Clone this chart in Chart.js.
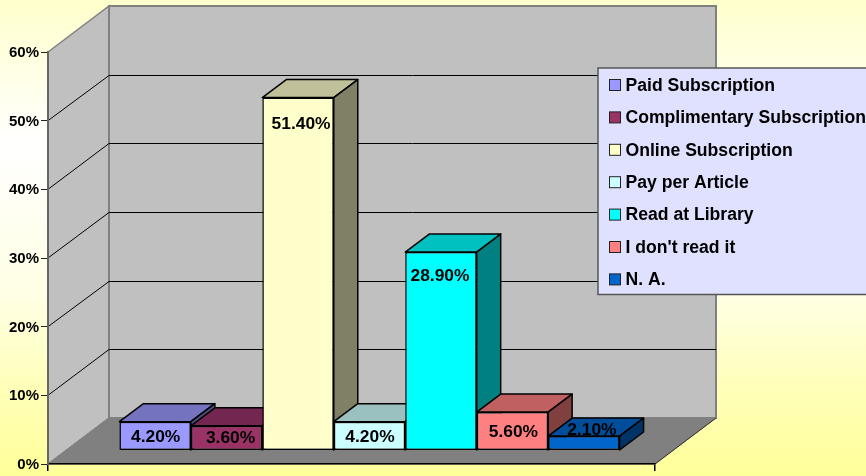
<!DOCTYPE html>
<html>
<head>
<meta charset="utf-8">
<style>
html, body { margin: 0; padding: 0; overflow: hidden; }
canvas { display: block; }
</style>
<script src="https://cdn.jsdelivr.net/npm/chart.js@4"></script>
</head>
<body>
<canvas id="chart" width="866" height="476"></canvas>
<script>
var categories = [''];
var seriesNames = ['Paid Subscription', 'Complimentary Subscription', 'Online Subscription', 'Pay per Article', 'Read at Library', "I don't read it", 'N. A.'];
var seriesValues = [4.2, 3.6, 51.4, 4.2, 28.9, 5.6, 2.1];
var seriesColors = ['#9999ff', '#993366', '#ffffcc', '#ccffff', '#00ffff', '#ff8080', '#0066cc'];
var topColors = ['#7373c0', '#732650', '#c0c09a', '#9ac0c0', '#00c0c0', '#c06060', '#004d9a'];
var sideColors = ['#4d4d80', '#4d1a33', '#808066', '#668080', '#008080', '#804040', '#003366'];

// where each value label sits against its bar top
var labelDrop = [15.5, 12, 26.5, 15.5, 24, 20.5, -6];
var labelNudge = [0.5, 4, 3, 0.5, -1, 1, 8];

var FONT = '"Liberation Sans", Arial, sans-serif';
var wallDx = 61, wallDy = -46;      // front plane to back wall
var barDx = 18, barDy = -13.5;      // front plane to bar fronts
var depthDx = 24, depthDy = -18;    // bar depth

function poly(ctx, pts, fill, stroke, width) {
    ctx.beginPath();
    ctx.moveTo(pts[0][0], pts[0][1]);
    for (var i = 1; i < pts.length; i++) {
        ctx.lineTo(pts[i][0], pts[i][1]);
    }
    ctx.closePath();
    if (fill) {
        ctx.fillStyle = fill;
        ctx.fill();
    }
    if (stroke) {
        ctx.strokeStyle = stroke;
        ctx.lineWidth = width;
        ctx.stroke();
    }
}

var wallsPlugin = {
    id: 'walls',
    beforeDraw: function(chart) {
        var ctx = chart.ctx, a = chart.chartArea, y = chart.scales.y;
        var bg = ctx.createLinearGradient(0, 0, 0, chart.height);
        bg.addColorStop(0, '#ffffcc');
        bg.addColorStop(0.3, '#ffffff');
        bg.addColorStop(0.62, '#ffffe4');
        bg.addColorStop(0.82, '#ffffb8');
        bg.addColorStop(1, '#ffff99');
        ctx.save();
        ctx.fillStyle = bg;
        ctx.fillRect(0, 0, chart.width, chart.height);

        var x0 = a.left, x1 = a.right, top = a.top, bot = a.bottom;
        poly(ctx, [[x0, top], [x0 + wallDx, top + wallDy], [x0 + wallDx, bot + wallDy], [x0, bot]], '#c0c0c0', '#808080', 1.5);
        poly(ctx, [[x0 + wallDx, top + wallDy], [x1 + wallDx, top + wallDy], [x1 + wallDx, bot + wallDy], [x0 + wallDx, bot + wallDy]], '#c0c0c0', '#808080', 2);
        poly(ctx, [[x0, bot], [x0 + wallDx, bot + wallDy], [x1 + wallDx, bot + wallDy], [x1, bot]], '#808080', '#808080', 1);

        ctx.strokeStyle = '#000';
        ctx.lineWidth = 1;
        y.ticks.forEach(function(t) {
            if (t.value === 0 || t.value === y.max) {
                return;
            }
            var py = y.getPixelForValue(t.value);
            var backY = Math.round(py + wallDy) + 0.5;
            ctx.beginPath();
            ctx.moveTo(x0, py);
            ctx.lineTo(x0 + wallDx, backY);
            ctx.lineTo(x1 + wallDx, backY);
            ctx.stroke();
        });
        ctx.beginPath();
        ctx.moveTo(x1, bot);
        ctx.lineTo(x1 + wallDx, bot + wallDy);
        ctx.strokeStyle = '#333';
        ctx.stroke();
        ctx.restore();
    },
    beforeDatasetsDraw: function(chart) {
        var ctx = chart.ctx;
        ctx.save();
        ctx.translate(barDx, barDy);
        // tops and sides go left to right, the library paints the fronts over them
        ctx.lineJoin = 'round';
        for (var i = 0; i < seriesValues.length; i++) {
            var b = chart.getDatasetMeta(i).data[0];
            var l = b.x - b.width / 2, r = b.x + b.width / 2, t = b.y, base = b.base;
            poly(ctx, [[l, t], [r, t], [r + depthDx, t + depthDy], [l + depthDx, t + depthDy]], topColors[i], '#000', 1.5);
            poly(ctx, [[r, t], [r + depthDx, t + depthDy], [r + depthDx, base + depthDy], [r, base]], sideColors[i], '#000', 1.5);
        }
    },
    afterDatasetsDraw: function(chart) {
        var ctx = chart.ctx;
        ctx.textAlign = 'center';
        ctx.textBaseline = 'middle';
        ctx.fillStyle = '#000';
        ctx.font = 'bold 17.4px ' + FONT;
        for (var i = 0; i < seriesValues.length; i++) {
            var b = chart.getDatasetMeta(i).data[0];
            ctx.fillText(seriesValues[i].toFixed(2) + '%', b.x + labelNudge[i], b.y + labelDrop[i]);
        }
        ctx.restore();
    },
    afterDraw: function(chart) {
        var ctx = chart.ctx;
        ctx.save();
        ctx.fillStyle = '#e0e0ff';
        ctx.strokeStyle = '#555';
        ctx.lineWidth = 1.5;
        ctx.fillRect(598, 68, 280, 226.5);
        ctx.strokeRect(598, 68, 280, 226.5);
        ctx.font = 'bold 17.6px ' + FONT;
        ctx.textBaseline = 'middle';
        ctx.textAlign = 'left';
        ctx.lineWidth = 1;
        for (var i = 0; i < seriesNames.length; i++) {
            var cy = 85 + i * 32.4;
            ctx.fillStyle = seriesColors[i];
            ctx.strokeStyle = '#222';
            ctx.fillRect(609.5, cy - 5.5, 11, 11);
            ctx.strokeRect(609.5, cy - 5.5, 11, 11);
            ctx.fillStyle = '#000';
            ctx.fillText(seriesNames[i], 625.5, cy + 1);
        }
        ctx.restore();
    }
};

var datasets = [];
for (var i = 0; i < seriesValues.length; i++) {
    datasets.push({
        label: seriesNames[i],
        data: [seriesValues[i]],
        backgroundColor: seriesColors[i],
        borderColor: '#000',
        borderWidth: 1.5,
        borderSkipped: false,
        categoryPercentage: 0.824,
        barPercentage: 1,
        clip: false
    });
}

new Chart(document.getElementById('chart'), {
    type: 'bar',
    data: { labels: categories, datasets: datasets },
    plugins: [wallsPlugin],
    options: {
        responsive: false,
        animation: false,
        layout: { padding: { left: 0, top: 52, right: 211, bottom: 0 } },
        plugins: { legend: { display: false }, tooltip: { enabled: false } },
        scales: {
            x: {
                afterFit: function(s) { s.height = 12; },
                border: { color: '#000', width: 1.5 },
                grid: { drawOnChartArea: false, color: '#000', tickLength: 7, lineWidth: 1.5 },
                ticks: { display: false }
            },
            y: {
                min: 0,
                max: 60,
                afterFit: function(s) { s.width = 48; },
                border: { color: '#666', width: 2 },
                grid: { drawOnChartArea: false, color: '#222', tickLength: 7 },
                ticks: {
                    stepSize: 10,
                    padding: 2,
                    labelOffset: 1,
                    color: '#000',
                    font: { family: FONT, size: 15, weight: 'bold' },
                    callback: function(v) { return v + '%'; }
                }
            }
        }
    }
});
</script>
</body>
</html>
